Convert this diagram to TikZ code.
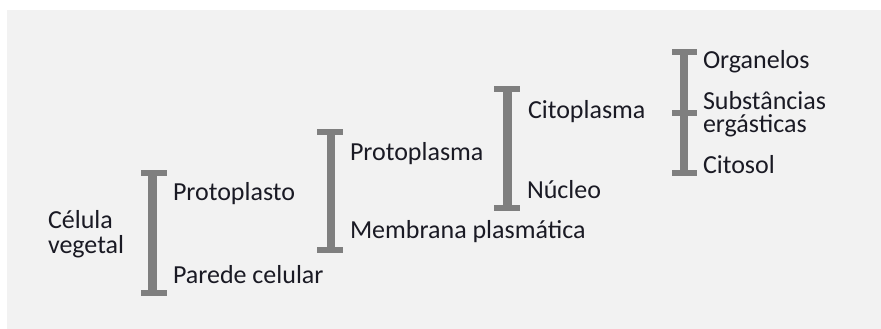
\documentclass[tikz,border=0pt]{standalone}
\usepackage{fontspec}
\setmainfont{Carlito}
\definecolor{panel}{HTML}{F2F2F2}
\definecolor{barcol}{HTML}{7F7F7F}
\definecolor{ink}{HTML}{1A1A24}
\newcommand{\twolines}[3]{\vtop{\baselineskip=#1\relax\hbox{#2}\hbox{#3}}}
\begin{document}
\begin{tikzpicture}[x=1pt,y=-1pt,
  lbl/.style={anchor=base west,inner sep=0pt,outer sep=0pt,text=ink,font=\fontsize{26}{26}\selectfont},
  bar/.style={fill=barcol,draw=none}]
\useasboundingbox (0,0) rectangle (881,329);
\fill[white] (0,0) rectangle (881,329);
\fill[panel] (7,10) rectangle (881,329);
% bracket 1
\fill[bar] (141,170) rectangle (167,176);
\fill[bar] (141,290) rectangle (167,296);
\fill[bar] (148,170) rectangle (157,296);
% bracket 2
\fill[bar] (317,129) rectangle (343,135);
\fill[bar] (317,247) rectangle (343,253);
\fill[bar] (327,129) rectangle (335,253);
% bracket 3
\fill[bar] (494,86) rectangle (520,92);
\fill[bar] (494,205) rectangle (520,211);
\fill[bar] (503,86) rectangle (511.5,211);
% bracket 4
\fill[bar] (672,49) rectangle (697,55);
\fill[bar] (672,110) rectangle (697,116);
\fill[bar] (672,170) rectangle (697,176);
\fill[bar] (680,49) rectangle (688,176);
% labels
\node[lbl] (cel) at (48,228.5) {\twolines{25pt}{Célula}{vegetal}};
\node[lbl] (pto) at (173,200) {Protoplasto};
\node[lbl] (par) at (173,283.5) {Parede celular};
\node[lbl] (pma) at (350,160) {Protoplasma};
\node[lbl] (mem) at (350,238.5) {Membrana plasmática};
\node[lbl] (cit) at (528,118) {Citoplasma};
\node[lbl] (nuc) at (527,198.5) {Núcleo};
\node[lbl] (org) at (703,68.5) {Organelos};
\node[lbl] (sub) at (703,110) {\twolines{23pt}{Substâncias}{ergásticas}};
\node[lbl] (cyt) at (703,173.5) {Citosol};
\end{tikzpicture}
\end{document}
